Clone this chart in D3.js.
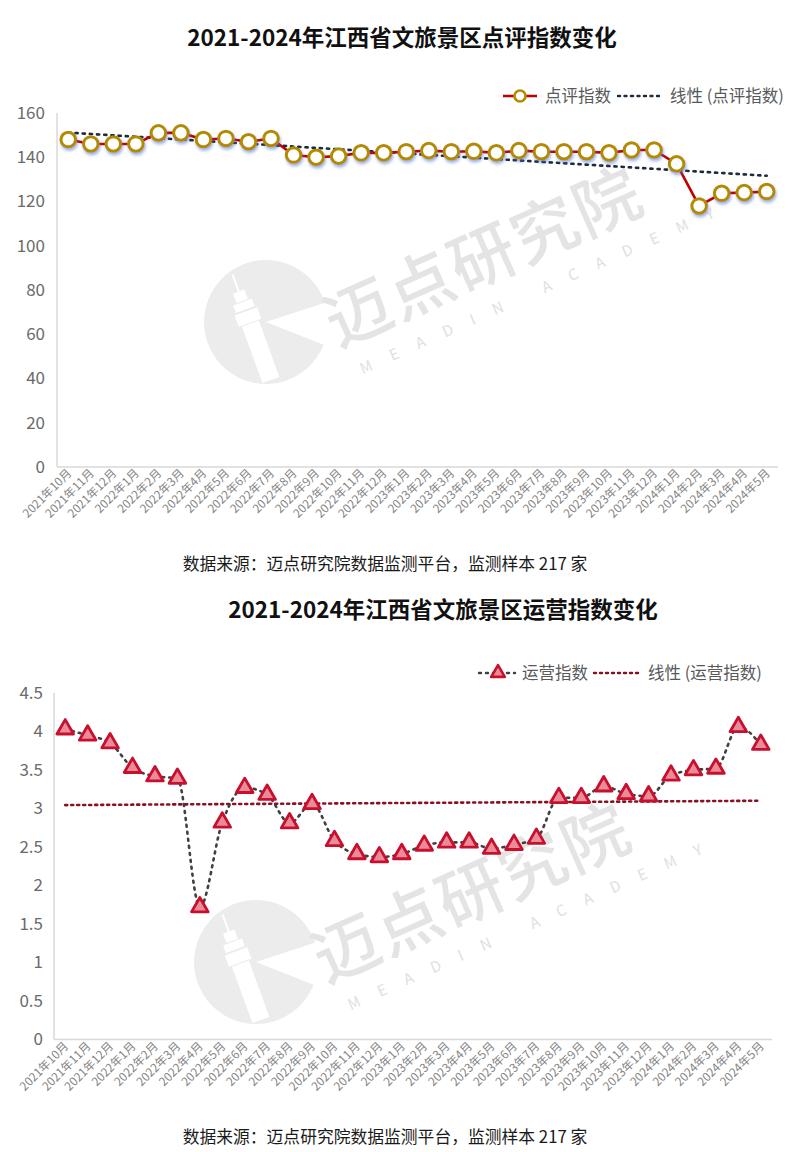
<!DOCTYPE html>
<html><head><meta charset="utf-8">
<script src="https://cdn.jsdelivr.net/npm/d3@7"></script>
<style>
html,body{margin:0;padding:0;background:#fff;}
svg{display:block;font-family:"Noto Sans CJK SC","Noto Sans",sans-serif;}
</style></head>
<body>
<svg id="c" width="800" height="1152"></svg>
<script>
const categories = ["2021年10月","2021年11月","2021年12月","2022年1月","2022年2月","2022年3月","2022年4月","2022年5月","2022年6月","2022年7月","2022年8月","2022年9月","2022年10月","2022年11月","2022年12月","2023年1月","2023年2月","2023年3月","2023年4月","2023年5月","2023年6月","2023年7月","2023年8月","2023年9月","2023年10月","2023年11月","2023年12月","2024年1月","2024年2月","2024年3月","2024年4月","2024年5月"];
const reviewIndex = [148,146,146,146,151,151,148,148.5,147,148.5,141,140,140.5,142,142,142.5,143,142.5,142.7,142,143,142.5,142.5,142.5,142,143.3,143.3,137,118,123.7,124,124.5];
const operIndex = [4.03,3.95,3.85,3.53,3.42,3.39,1.72,2.82,3.27,3.18,2.81,3.06,2.58,2.41,2.37,2.41,2.52,2.56,2.56,2.48,2.53,2.61,3.14,3.14,3.29,3.19,3.16,3.43,3.5,3.52,4.06,3.83];
const reviewTicks = [0,20,40,60,80,100,120,140,160];
const operTicks = [0,0.5,1,1.5,2,2.5,3,3.5,4,4.5];
const titles = ["2021-2024年江西省文旅景区点评指数变化","2021-2024年江西省文旅景区运营指数变化"];
const legendTop = ["点评指数","线性 (点评指数)"];
const legendBottom = ["运营指数","线性 (运营指数)"];
const sourceText = "数据来源：迈点研究院数据监测平台，监测样本 217 家";

const svg = d3.select("#c");
const defs = svg.append("defs");
const f = defs.append("filter").attr("id","sh").attr("x","-50%").attr("y","-50%").attr("width","200%").attr("height","200%");
f.append("feDropShadow").attr("dx",1).attr("dy",2.5).attr("stdDeviation",1.6).attr("flood-color","#4a6fd0").attr("flood-opacity",0.55);

function regression(vals){
  const n=vals.length, mx=(n-1)/2, my=d3.mean(vals);
  let num=0,den=0; vals.forEach((v,i)=>{num+=(i-mx)*(v-my);den+=(i-mx)*(i-mx);});
  const b=num/den, a=my-b*mx;
  return vals.map((v,i)=>a+b*i);
}

function watermark(g, cx, cy, tx, ty){
  const w = g.append("g");
  const r=62;
  const arc = d3.arc().innerRadius(0).outerRadius(r).startAngle(Math.PI*0.62).endAngle(Math.PI*2+Math.PI*0.40);
  w.append("path").attr("transform",`translate(${cx},${cy})`).attr("d",arc()).attr("fill","#ececec");
  const t = w.append("g").attr("transform",`translate(${cx-18},${cy-5}) rotate(-20)`).attr("fill","#fff");
  t.append("rect").attr("x",-1).attr("y",-45).attr("width",2).attr("height",20);
  t.append("rect").attr("x",-6).attr("y",-27).attr("width",12).attr("height",10);
  t.append("rect").attr("x",-10).attr("y",-16).attr("width",20).attr("height",8);
  t.append("rect").attr("x",-12).attr("y",-6).attr("width",24).attr("height",12);
  t.append("rect").attr("x",-9).attr("y",7).attr("width",18).attr("height",60);
  const tt = w.append("g").attr("transform",`translate(${tx},${ty}) rotate(-24)`);
  tt.append("text").attr("x",0).attr("y",0).attr("font-size",66).attr("font-weight",500).attr("fill","#e4e4e4").attr("letter-spacing",2).text("迈点研究院");
  tt.append("text").attr("x",12).attr("y",34).attr("font-size",15).attr("fill","#e0e0e0").attr("letter-spacing",20).text("MEADIN ACADEMY");
}

function xAxisLabels(g, x, y0){
  g.selectAll("text.xl").data(categories).join("text").attr("class","xl")
    .attr("transform",d=>`translate(${x(d)+x.bandwidth()/2+4},${y0}) rotate(-45)`)
    .attr("text-anchor","end").attr("font-size",11.8).attr("fill","#858585").text(d=>d);
}

// ---------- Chart 1 ----------
{
  const g = svg.append("g");
  watermark(g, 266, 322, 338, 348);
  const x = d3.scaleBand().domain(categories).range([57,778]);
  const y = d3.scaleLinear().domain([0,160]).range([467,113]);
  g.append("text").attr("x",402).attr("y",46).attr("text-anchor","middle").attr("font-size",22.5).attr("font-weight",700).attr("fill","#111").text(titles[0]);
  g.append("line").attr("x1",57).attr("x2",57).attr("y1",113).attr("y2",467).attr("stroke","#d9d9d9").attr("stroke-width",1.5);
  g.append("line").attr("x1",57).attr("x2",778).attr("y1",467).attr("y2",467).attr("stroke","#d9d9d9").attr("stroke-width",1.5);
  const ya = g.append("g").attr("transform","translate(45,0)").call(d3.axisLeft(y).tickValues(reviewTicks).tickSize(0).tickPadding(0));
  ya.select(".domain").remove();
  ya.selectAll("text").attr("font-size",17).attr("fill","#6b6b6b").attr("font-family","'Noto Sans CJK SC',sans-serif");
  xAxisLabels(g, x, 474);
  const cx = d=>x(d)+x.bandwidth()/2;
  const trend = regression(reviewIndex);
  g.append("path").datum(trend).attr("fill","none").attr("stroke","#1f2a3a").attr("stroke-width",2.6)
    .attr("stroke-dasharray","2.2 5").attr("stroke-linecap","round")
    .attr("d",d3.line().x((d,i)=>cx(categories[i])).y(d=>y(d)));
  g.append("path").datum(reviewIndex).attr("fill","none").attr("stroke","#c00000").attr("stroke-width",2.6)
    .attr("d",d3.line().x((d,i)=>cx(categories[i])).y(d=>y(d)));
  g.selectAll("circle.m").data(reviewIndex).join("circle").attr("class","m")
    .attr("cx",(d,i)=>cx(categories[i])).attr("cy",d=>y(d)).attr("r",7.3)
    .attr("fill","#fff").attr("stroke","#b38b00").attr("stroke-width",3).attr("filter","url(#sh)");
  const lg = g.append("g");
  lg.append("line").attr("x1",503).attr("x2",537).attr("y1",96).attr("y2",96).attr("stroke","#c00000").attr("stroke-width",2.6);
  lg.append("circle").attr("cx",520).attr("cy",96).attr("r",5.5).attr("fill","#fff").attr("stroke","#b38b00").attr("stroke-width",2.6);
  lg.append("text").attr("x",545).attr("y",102).attr("font-size",16.5).attr("fill","#595959").text(legendTop[0]);
  lg.append("line").attr("x1",618).attr("x2",660).attr("y1",96).attr("y2",96).attr("stroke","#1f2a3a").attr("stroke-width",2.4).attr("stroke-dasharray","2 4.5").attr("stroke-linecap","round");
  lg.append("text").attr("x",670).attr("y",102).attr("font-size",16.5).attr("fill","#595959").text(legendTop[1]);
  g.append("text").attr("x",385).attr("y",570).attr("text-anchor","middle").attr("font-size",16.8).attr("fill","#1a1a1a").text(sourceText);
}

// ---------- Chart 2 ----------
{
  const g = svg.append("g");
  watermark(g, 256, 962, 326, 984);
  const x = d3.scaleBand().domain(categories).range([54,772]);
  const y = d3.scaleLinear().domain([0,4.5]).range([1039.5,693]);
  g.append("text").attr("x",443).attr("y",618).attr("text-anchor","middle").attr("font-size",22.5).attr("font-weight",700).attr("fill","#111").text(titles[1]);
  g.append("line").attr("x1",54).attr("x2",54).attr("y1",693).attr("y2",1039.5).attr("stroke","#d9d9d9").attr("stroke-width",1.5);
  g.append("line").attr("x1",54).attr("x2",772).attr("y1",1039.5).attr("y2",1039.5).attr("stroke","#d9d9d9").attr("stroke-width",1.5);
  const ya = g.append("g").attr("transform","translate(43,0)").call(d3.axisLeft(y).tickValues(operTicks).tickSize(0).tickPadding(0).tickFormat(d3.format("")));
  ya.select(".domain").remove();
  ya.selectAll("text").attr("font-size",17).attr("fill","#6b6b6b").attr("font-family","'Noto Sans CJK SC',sans-serif");
  xAxisLabels(g, x, 1047);
  const cx = d=>x(d)+x.bandwidth()/2;
  const trend = regression(operIndex);
  g.append("path").datum(trend).attr("fill","none").attr("stroke","#8b1020").attr("stroke-width",2.6)
    .attr("stroke-dasharray","2 4").attr("stroke-linecap","round")
    .attr("d",d3.line().x((d,i)=>cx(categories[i])).y(d=>y(d)));
  g.append("path").datum(operIndex).attr("fill","none").attr("stroke","#404040").attr("stroke-width",2.6)
    .attr("stroke-dasharray","2 5").attr("stroke-linecap","round")
    .attr("d",d3.line().curve(d3.curveMonotoneX).x((d,i)=>cx(categories[i])).y(d=>y(d)));
  const tri = d3.symbol().type(d3.symbolTriangle).size(120);
  g.selectAll("path.m").data(operIndex).join("path").attr("class","m")
    .attr("transform",(d,i)=>`translate(${cx(categories[i])},${y(d)})`).attr("d",tri)
    .attr("fill","#e98b98").attr("stroke","#c8102e").attr("stroke-width",2.8).attr("stroke-linejoin","round");
  const lg = g.append("g");
  lg.append("line").attr("x1",479).attr("x2",515).attr("y1",673).attr("y2",673).attr("stroke","#404040").attr("stroke-width",2.4).attr("stroke-dasharray","2 5").attr("stroke-linecap","round");
  lg.append("path").attr("transform","translate(498,673)").attr("d",d3.symbol().type(d3.symbolTriangle).size(80)).attr("fill","#e98b98").attr("stroke","#c8102e").attr("stroke-width",2.6).attr("stroke-linejoin","round");
  lg.append("text").attr("x",522).attr("y",679).attr("font-size",16.5).attr("fill","#595959").text(legendBottom[0]);
  lg.append("line").attr("x1",594).attr("x2",640).attr("y1",673).attr("y2",673).attr("stroke","#8b1020").attr("stroke-width",2.4).attr("stroke-dasharray","2 4").attr("stroke-linecap","round");
  lg.append("text").attr("x",648).attr("y",679).attr("font-size",16.5).attr("fill","#595959").text(legendBottom[1]);
  g.append("text").attr("x",385).attr("y",1143).attr("text-anchor","middle").attr("font-size",16.8).attr("fill","#1a1a1a").text(sourceText);
}
</script>
</body></html>
